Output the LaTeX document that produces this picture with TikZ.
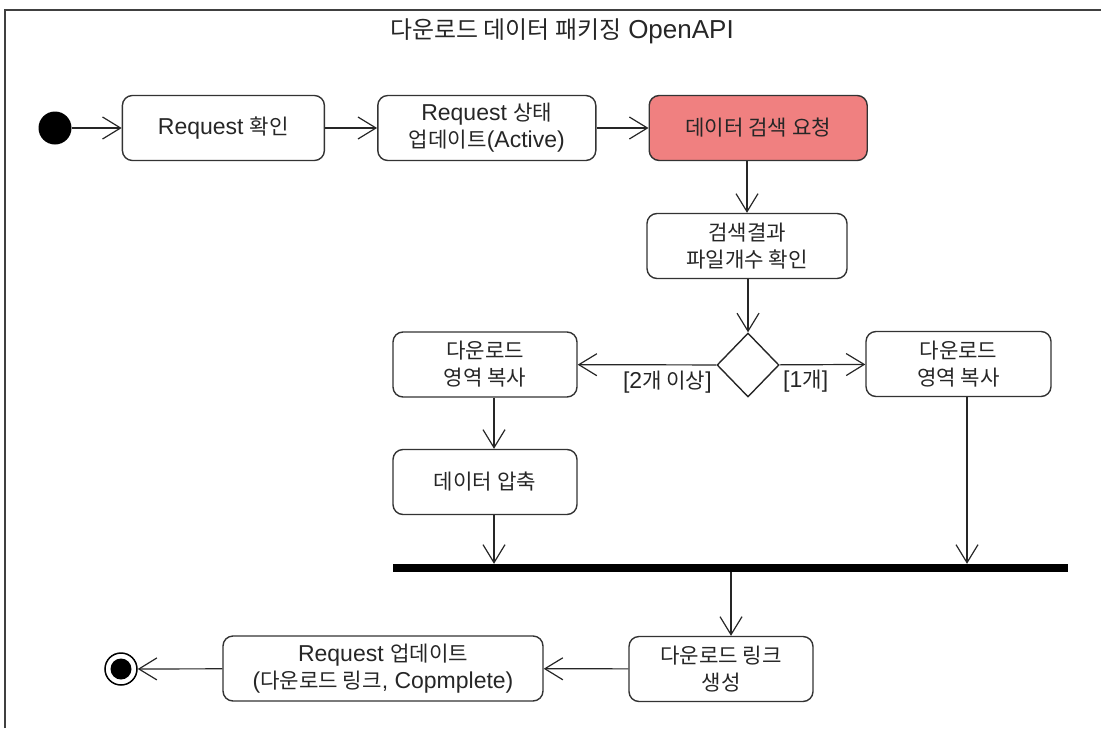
\documentclass[tikz,border=0pt]{standalone}
\usepackage{fontspec}
\setmainfont{Liberation Sans}
\newfontfamily\korfont[Scale=0.92]{Noto Sans CJK KR}
\newcommand{\kor}[1]{{\korfont #1}}
\usetikzlibrary{positioning,arrows.meta,shapes.geometric}
\definecolor{searchred}{RGB}{240,128,128}

\begin{document}
\begin{tikzpicture}[
  x=1pt, y=-1pt,
  font=\fontsize{23}{27}\selectfont,
  act/.style={draw=black!80, line width=1.4pt, rounded corners=10pt, align=center,
    minimum height=65pt, inner sep=4pt, text=black!85},
  decision/.style={diamond, draw=black!85, line width=1.4pt, minimum width=62pt,
    minimum height=64pt, inner sep=0pt},
  forkbar/.style={fill=black, minimum width=675pt, minimum height=8pt, inner sep=0pt},
  startdot/.style={circle, fill=black, minimum size=33pt, inner sep=0pt},
  enddot/.style={circle, draw=black, line width=1.5pt, minimum size=32pt, inner sep=0pt,
    path picture={\fill (path picture bounding box.center) circle (10.5pt);}},
  guard/.style={inner sep=0pt, text=black!85},
  arr/.style={-{Straight Barb[length=18pt,width=22pt]}, line width=1.2pt, draw=black!85}
]
\useasboundingbox (0,0) rectangle (1107,728);

% frame and title
\draw[line width=2pt, black!75] (5,728) -- (5,10) -- (1101,10);
\node[font=\fontsize{26}{30}\selectfont, text=black!85] (title) at (562,31)
  {\kor{다운로드 데이터 패키징} OpenAPI};

% nodes
\node[startdot] (start) at (55,128) {};
\node[act, minimum width=202pt, right=50pt of start] (check) {Request \kor{확인}};
\node[act, minimum width=218pt, right=52pt of check] (active)
  {Request \kor{상태}\\\kor{업데이트}(Active)};
\node[act, fill=searchred, minimum width=218pt, right=52pt of active] (search)
  {\kor{데이터 검색 요청}};
\node[act, minimum width=200pt] (count) at (747,246) {\kor{검색결과}\\\kor{파일개수 확인}};
\node[decision] (dec) at (748,365) {};
\node[act, minimum width=184pt] (copyL) at (485,364.5) {\kor{다운로드}\\\kor{영역 복사}};
\node[act, minimum width=184pt] (zip) at (485,482) {\kor{데이터 압축}};
\node[act, minimum width=185pt] (copyR) at (958.5,364) {\kor{다운로드}\\\kor{영역 복사}};
\node[forkbar] (join) at (730.5,568) {};
\node[act, minimum width=184pt] (link) at (721,669) {\kor{다운로드 링크}\\\kor{생성}};
\node[act, minimum width=320pt] (update) at (383,668.5)
  {Request \kor{업데이트}\\(\kor{다운로드 링크}, Copmplete)};
\node[enddot] (end) at (121,669) {};

% arrows
\draw[arr] (start) -- (check);
\draw[arr] (check) -- (active);
\draw[arr] (active) -- (search);
\draw[arr] (search.south -| count) -- (count);
\draw[arr] (count.south -| dec) -- (dec);
\draw[arr] (dec) -- node[guard, pos=0, anchor=north east, xshift=-4pt, yshift=-5pt]
  {[2\kor{개 이상}]} (copyL);
\draw[arr] (dec) -- node[guard, pos=0, anchor=north west, xshift=3pt, yshift=-5pt]
  {[1\kor{개}]} (copyR);
\draw[arr] ([xshift=9pt]copyL.south) -- ([xshift=9pt]zip.north);
\draw[arr] ([xshift=9pt]zip.south) -- ([xshift=9pt]zip.south |- join.north);
\draw[arr] ([xshift=8.5pt]copyR.south) -- ([xshift=8.5pt]copyR.south |- join.north);
\draw[arr] ([xshift=10pt]link.north |- join.south) -- ([xshift=10pt]link.north);
\draw[arr] (link) -- (update);
\draw[arr] (update) -- (end);

\end{tikzpicture}
\end{document}
